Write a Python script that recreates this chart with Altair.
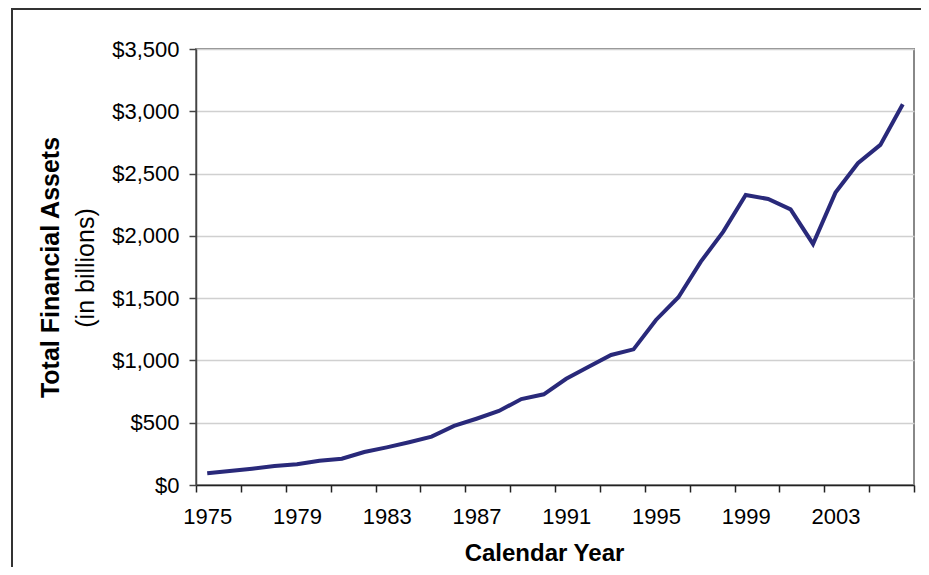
import altair as alt
import pandas as pd

years = list(range(1975, 2007))
assets = [94, 112, 131, 152, 166, 195, 211, 265, 302, 343, 388, 474, 532, 594, 690, 728,
          853, 950, 1044, 1089, 1325, 1507, 1793, 2034, 2328, 2296, 2213, 1935, 2347, 2583, 2730, 3057]
y_ticks = [0, 500, 1000, 1500, 2000, 2500, 3000, 3500]
x_tick_bounds = [1974.5 + 2 * k for k in range(17)]

W, H = 718, 436
FONT = "Liberation Sans"

df = pd.DataFrame({"year": years, "assets": assets})

line = alt.Chart(df).mark_line(color="#29297A", strokeWidth=4).encode(
    x=alt.X("year:Q",
            scale=alt.Scale(domain=[1974.5, 2006.5], nice=False, zero=False),
            axis=alt.Axis(values=x_tick_bounds,
                          labelExpr="(datum.value < 2006 && (datum.value + 0.5 - 1975) % 4 == 0) ? toString(datum.value + 0.5) : ''",
                          labelOffset=W / 32 / 2, labelFlush=False, labelOverlap=False,
                          grid=False, tickSize=7, tickColor="#222222", tickWidth=1.5,
                          domainColor="#222222", domainWidth=1.5,
                          labelFontSize=22, labelPadding=14, labelColor="#000000",
                          title="Calendar Year", titleFontSize=24, titleFontWeight="bold",
                          titleColor="#000000", titleX=348, titleY=75, titleBaseline="alphabetic",
                          titleAlign="center")),
    y=alt.Y("assets:Q",
            scale=alt.Scale(domain=[0, 3500], nice=False),
            axis=alt.Axis(values=y_ticks, format="$,.0f", grid=True, gridColor="#D0D0D0",
                          gridWidth=1.5, tickSize=7, tickColor="#444444", tickWidth=1.5,
                          domainColor="#444444", domainWidth=1.5,
                          labelFontSize=22, labelPadding=10, labelColor="#000000",
                          title="Total Financial Assets", titleFontSize=25, titleFontWeight="bold",
                          titleColor="#000000", titleAngle=270, titleX=-146, titleY=218,
                          titleBaseline="middle", titleAlign="center")),
)

sub = alt.Chart(pd.DataFrame({"t": ["(in billions)"]})).mark_text(
    angle=270, fontSize=25, font=FONT, color="#000000", baseline="middle", align="center"
).encode(text="t:N", x=alt.value(-110), y=alt.value(219))

frame_left = alt.Chart(pd.DataFrame({"a": [0]})).mark_rule(color="#333333", strokeWidth=2).encode(
    x=alt.value(-184), y=alt.value(-41), y2=alt.value(520))
frame_top = alt.Chart(pd.DataFrame({"a": [0]})).mark_rule(color="#333333", strokeWidth=2).encode(
    x=alt.value(-185), x2=alt.value(725), y=alt.value(-40))

chart = alt.layer(frame_left, frame_top, line, sub).properties(
    width=W, height=H,
    autosize=alt.AutoSizeParams(type="none"),
    padding={"left": 188, "top": 41, "right": 7, "bottom": 82},
    background="#FFFFFF",
).configure(font=FONT).configure_view(stroke="#888888", strokeWidth=2)

chart.save("out.html", embed_options={"renderer": "svg", "actions": False})
